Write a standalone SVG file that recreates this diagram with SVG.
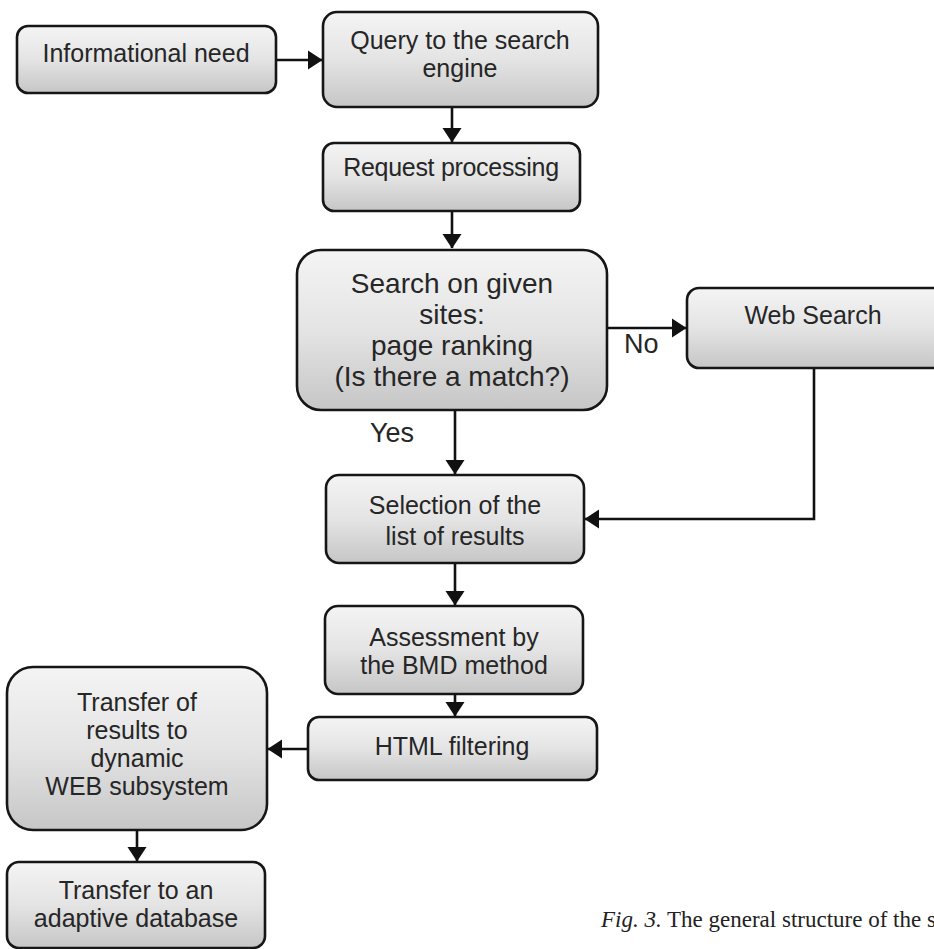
<svg xmlns="http://www.w3.org/2000/svg" width="934" height="949" viewBox="0 0 934 949">
<defs>
<linearGradient id="g" x1="0" y1="0" x2="0" y2="1">
<stop offset="0" stop-color="#f4f4f4"/>
<stop offset="0.5" stop-color="#e4e4e4"/>
<stop offset="1" stop-color="#c6c6c6"/>
</linearGradient>
<marker id="ah" markerUnits="userSpaceOnUse" markerWidth="15" markerHeight="20" viewBox="0 0 15 20" refX="14" refY="10" orient="auto">
<path d="M0,0.5 L14.5,10 L0,19.5 Z" fill="#111"/>
</marker>
<style>
.box{fill:url(#g);stroke:#161616;stroke-width:2.6}
.t{font-family:"Liberation Sans",Arial,sans-serif;font-size:25px;fill:#262626;text-anchor:middle}
.big{font-size:28px}
.lbl{font-family:"Liberation Sans",Arial,sans-serif;font-size:27px;fill:#262626}
.c{fill:none;stroke:#111;stroke-width:2.6}
.cap{font-family:"Liberation Serif","Times New Roman",serif;font-size:23px;fill:#222}
</style>
</defs>
<rect width="934" height="949" fill="#fff"/>
<g id="connectors">
<path class="c" d="M276,60 H322" marker-end="url(#ah)"/>
<path class="c" d="M452,107 V142" marker-end="url(#ah)"/>
<path class="c" d="M452,211 V248" marker-end="url(#ah)"/>
<path class="c" d="M607,328 H686" marker-end="url(#ah)"/>
<path class="c" d="M455,410 V474" marker-end="url(#ah)"/>
<path class="c" d="M814,368 V519 H585" marker-end="url(#ah)"/>
<path class="c" d="M455,563 V605" marker-end="url(#ah)"/>
<path class="c" d="M455,694 V716" marker-end="url(#ah)"/>
<path class="c" d="M308,749 H268" marker-end="url(#ah)"/>
<path class="c" d="M137,830 V861" marker-end="url(#ah)"/>
<text class="lbl" x="624" y="353">No</text>
<text class="lbl" x="370" y="442">Yes</text>
</g>
<g id="n1">
<rect class="box" x="17" y="26" width="259" height="67" rx="11"/>
<text class="t" x="146" y="62">Informational need</text>
</g>
<g id="n2">
<rect class="box" x="323" y="12" width="275" height="95" rx="14"/>
<text class="t" x="460" y="49">Query to the search</text>
<text class="t" x="460" y="77">engine</text>
</g>
<g id="n3">
<rect class="box" x="323" y="143" width="257" height="68" rx="11"/>
<text class="t" x="451" y="176" letter-spacing="-0.3">Request processing</text>
</g>
<g id="n4">
<rect class="box" x="297" y="250" width="310" height="160" rx="24"/>
<text class="t big" x="452" y="293">Search on given</text>
<text class="t big" x="452" y="324">sites:</text>
<text class="t big" x="452" y="355">page ranking</text>
<text class="t big" x="452" y="386">(Is there a match?)</text>
</g>
<g id="n5">
<rect class="box" x="687" y="288" width="262" height="80" rx="12"/>
<text class="t" x="813" y="324">Web Search</text>
</g>
<g id="n6">
<rect class="box" x="326" y="475" width="258" height="88" rx="13"/>
<text class="t" x="455" y="514">Selection of the</text>
<text class="t" x="455" y="545">list of results</text>
</g>
<g id="n7">
<rect class="box" x="325" y="606" width="258" height="88" rx="13"/>
<text class="t" x="454" y="646">Assessment by</text>
<text class="t" x="454" y="674">the BMD method</text>
</g>
<g id="n8">
<rect class="box" x="308" y="717" width="289" height="63" rx="11"/>
<text class="t" x="452" y="755">HTML filtering</text>
</g>
<g id="n9">
<rect class="box" x="7" y="667" width="260" height="163" rx="26"/>
<text class="t" x="137" y="711">Transfer of</text>
<text class="t" x="137" y="739">results to</text>
<text class="t" x="137" y="767">dynamic</text>
<text class="t" x="137" y="795">WEB subsystem</text>
</g>
<g id="n10">
<rect class="box" x="7" y="862" width="258" height="86" rx="12"/>
<text class="t" x="136" y="899">Transfer to an</text>
<text class="t" x="136" y="927">adaptive database</text>
</g>
<text class="cap" x="601" y="927"><tspan font-style="italic">Fig. 3.</tspan> The general structure of the s</text>
</svg>
